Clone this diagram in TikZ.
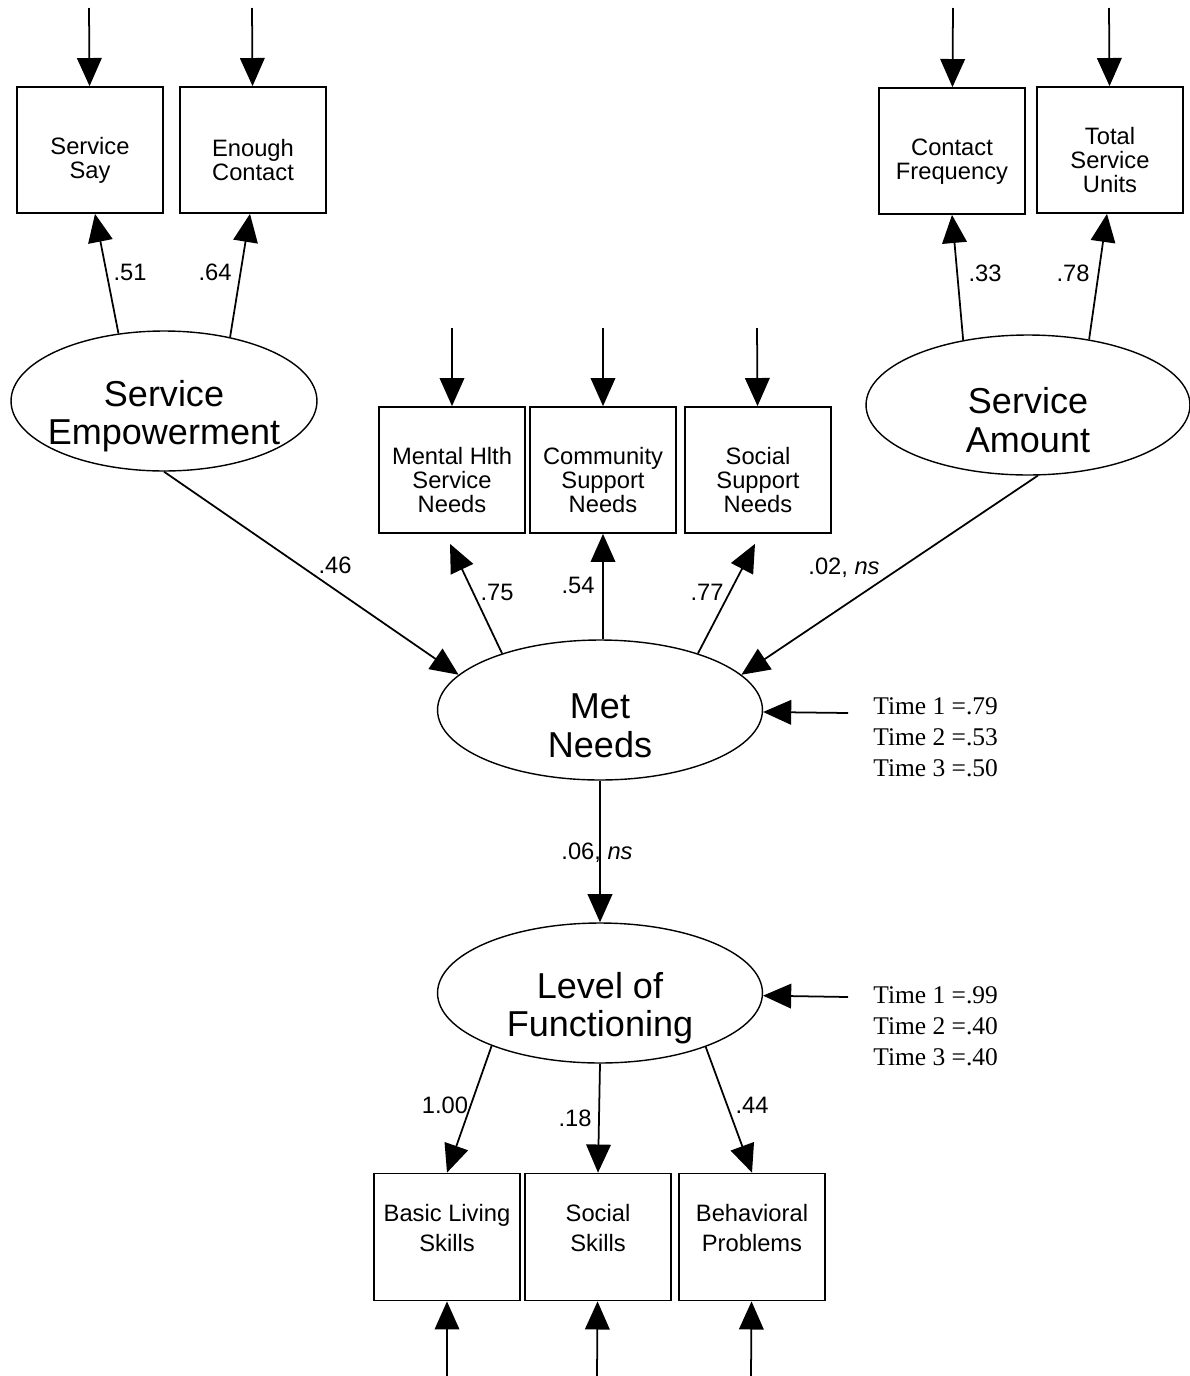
\documentclass[tikz,border=0pt]{standalone}
\usepackage{fontspec}
\setmainfont{Liberation Sans}
\newfontfamily\timesfont{Liberation Serif}
\usetikzlibrary{arrows.meta}
\usetikzlibrary{shapes.geometric}

\tikzset{
  box/.style={draw,line width=1pt,minimum width=2.92cm,inner sep=0pt,align=center},
  obs/.style={box,minimum height=2.52cm,font=\fontsize{13.5}{13.6}\selectfont,text height=35pt},
  obs3/.style={obs,text height=48.5pt},
  obslow/.style={box,minimum height=2.54cm,font=\fontsize{13.5}{17}\selectfont,execute at end node={\rule[-10.5pt]{0pt}{0pt}}},
  lat/.style={draw,ellipse,line width=0.8pt,inner xsep=-1cm,inner ysep=-0.6cm,minimum width=6.5cm,minimum height=2.8cm,align=center,font=\fontsize{20.5}{22}\selectfont,text height=54pt},
  arr/.style={-{Triangle[length=16pt,width=14pt]},line width=1pt},
  coef/.style={font=\fontsize{13.5}{14}\selectfont,inner sep=0pt},
  resid/.style={font=\timesfont\fontsize{14.5}{17.6}\selectfont,align=left,anchor=west,inner sep=0pt}
}

\begin{document}
\begin{tikzpicture}[x=0.02cm,y=-0.02cm]
\useasboundingbox (0,0) rectangle (1190,1376);

% latent variables
\node[lat,minimum width=6.12cm] (se) at (164,401) {Service\\Empowerment};
\node[lat,minimum width=6.48cm] (sa) at (1028,405) {Service\\Amount};
\node[lat] (mn) at (600,710) {Met\\Needs};
\node[lat] (lof) at (600,993) {Level of\\Functioning};

% indicators
\node[obs] (say) at (90,150) {Service\\Say};
\node[obs] (enough) at (253,150) {Enough\\Contact};
\node[obs] (cfreq) at (952,151) {Contact\\Frequency};
\node[obs3] (tsu) at (1110,150) {Total\\Service\\Units};
\node[obs3] (mhsn) at (452,470) {Mental Hlth\\Service\\Needs};
\node[obs3] (csn) at (603,470) {Community\\Support\\Needs};
\node[obs3] (ssn) at (758,470) {Social\\Support\\Needs};
\node[obslow] (bls) at (447,1237) {Basic Living\\Skills};
\node[obslow] (sks) at (598,1237) {Social\\Skills};
\node[obslow] (bpr) at (752,1237) {Behavioral\\Problems};

% error terms
\foreach \b/\x/\y in {say/89/8, enough/252/8, cfreq/953/8, tsu/1109/8, mhsn/452/328, csn/603/328, ssn/757/328, bls/447/1376, sks/597/1376, bpr/751/1376}{
  \coordinate (e-\b) at (\x,\y);
  \draw[arr] (e-\b) -- (\b);
}

% loadings
\draw[arr] (se.124) -- ([xshift=0.1cm]say.south);
\draw[arr] (se.44) -- ([xshift=-0.06cm]enough.south);
\draw[arr] (sa.135) -- (cfreq.south);
\draw[arr] (sa.47) -- ([xshift=-0.06cm]tsu.south);
\draw[arr] (mn.150) -- ([xshift=-0.04cm,yshift=-0.2cm]mhsn.south);
\draw[arr] (mn.north -| csn) -- (csn);
\draw[arr] (mn.30) -- ([xshift=-0.06cm,yshift=-0.2cm]ssn.south);
\draw[arr] (lof.-154) -- (bls.north);
\draw[arr] (lof.south) -- (sks.north);
\draw[arr] (lof.-27) -- (bpr.north);

% structural paths
\draw[arr] (se.south) -- (mn.166);
\draw[arr] (sa.-82) -- (mn.14);
\draw[arr] (mn) -- (lof);

% disturbances
\coordinate (d-mn) at (848,713);
\coordinate (d-lof) at (848,997);
\draw[arr] (d-mn) -- (mn);
\draw[arr] (d-lof) -- (lof);
\node[resid] (t-mn) at (873,737) {Time 1 =.79\\Time 2 =.53\\Time 3 =.50};
\node[resid] (t-lof) at (873,1026) {Time 1 =.99\\Time 2 =.40\\Time 3 =.40};

% coefficients
\node[coef] (c-say) at (130,272) {.51};
\node[coef] (c-enough) at (215,272) {.64};
\node[coef] (c-cfreq) at (985,273) {.33};
\node[coef] (c-tsu) at (1073,273) {.78};
\node[coef] (c-mhsn) at (497,592) {.75};
\node[coef] (c-csn) at (578,585) {.54};
\node[coef] (c-ssn) at (707,592) {.77};
\node[coef] (c-se) at (335,565) {.46};
\node[coef] (c-sa) at (844,568) {.02, \textit{ns}};
\node[coef] (c-mn) at (597,853) {.06, \textit{ns}};
\node[coef] (c-bls) at (445,1105) {1.00};
\node[coef] (c-sks) at (575,1118) {.18};
\node[coef] (c-bpr) at (752,1105) {.44};
\end{tikzpicture}
\end{document}
